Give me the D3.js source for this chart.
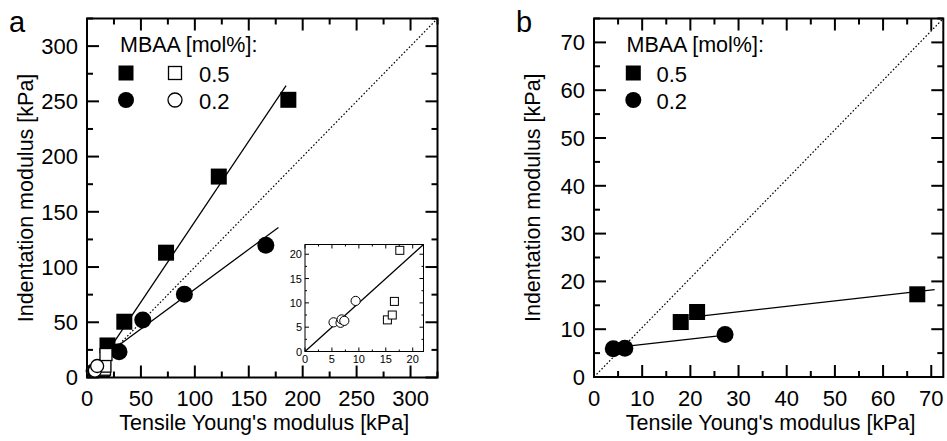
<!DOCTYPE html>
<html><head><meta charset="utf-8">
<script src="https://cdn.jsdelivr.net/npm/d3@7"></script>
<style>body{margin:0;background:#fff}svg{display:block;font-family:"Liberation Sans",Arial,sans-serif}</style>
</head><body><svg id="c" width="947" height="441"></svg>
<script>
// ---------- data ----------
const aXTicks = [0,50,100,150,200,250,300];
const aYTicks = [0,50,100,150,200,250,300];
const bXTicks = [0,10,20,30,40,50,60,70];
const bYTicks = [0,10,20,30,40,50,60,70];
const insetTicks = [0,5,10,15,20];
const legendTitle = "MBAA [mol%]:";
const legendLabels = ["0.5","0.2"];
const xTitle = "Tensile Young's modulus [kPa]";
const yTitle = "Indentation modulus [kPa]";

// panel a, filled (tensile vs indentation)
const aSquares = [[19,29],[34.6,50.5],[73.3,113],[122.2,181.9],[186.7,251.4]];
const aCircles = [[29.7,23.4],[51.7,52.1],[90.3,75.4],[165.8,119.7]];
// panel a, open symbols (also shown in inset)
const openSquares = [[15.3,6.5],[16.2,7.5],[16.6,10.3],[17.6,20.8]];
const openCircles = [[5.3,6.0],[6.6,5.9],[6.8,6.6],[7.3,6.3],[9.4,10.4]];
// fitted / reference lines
const aFitSquare = [[10,10.1],[184.6,264.3]];
const aFitCircle = [[5,11.6],[177.5,135.8]];
const aDiagonal = [[0,0],[325,325]];
const insetLine = [[0,0],[22,22]];
// panel b
const bSquares = [[18.0,11.5],[21.4,13.6],[67.1,17.3]];
const bCircles = [[4.0,5.9],[6.4,6.0],[27.2,8.9]];
const bFitSquare = [[21.6,12.7],[70.7,18.3]];
const bFitCircle = [[4.7,6.2],[26.8,8.7]];
const bDiagonal = [[0,0],[72.5,75]];

// ---------- drawing ----------
const svg = d3.select("#c");
svg.append("rect").attr("width",947).attr("height",441).attr("fill","#fff");

function minorTicks(major){const m=[];for(let i=0;i<major.length;i++){m.push(major[i]);if(i<major.length-1)m.push((major[i]+major[i+1])/2);}return m;}

function panel(o){
  const g = svg.append("g");
  const x = d3.scaleLinear().domain(o.xd).range([o.l,o.r]);
  const y = d3.scaleLinear().domain(o.yd).range([o.b,o.t]);
  const step=o.xt[1]-o.xt[0];
  const xAll=[...o.xt]; xAll.push(o.xt[o.xt.length-1]+step/2);
  const xs=[]; o.xt.forEach(v=>{xs.push([v,1]); xs.push([v+step/2,0]);});
  const ystep=o.yt[1]-o.yt[0];
  const ys=[]; o.yt.forEach(v=>{ys.push([v,1]); ys.push([v+ystep/2,0]);});
  const fx=xs.filter(d=>d[0]<=o.xd[1]+1e-9), fy=ys.filter(d=>d[0]<=o.yd[1]+1e-9);
  const tk=g.append("g").attr("stroke","#000").attr("stroke-width",2);
  fx.forEach(([v,maj])=>{const L=maj?12:6;const px=x(v);
    tk.append("line").attr("x1",px).attr("x2",px).attr("y1",o.b).attr("y2",o.b-L);
    tk.append("line").attr("x1",px).attr("x2",px).attr("y1",o.t).attr("y2",o.t+L);});
  fy.forEach(([v,maj])=>{const L=maj?12:6;const py=y(v);
    tk.append("line").attr("y1",py).attr("y2",py).attr("x1",o.l).attr("x2",o.l+L);
    tk.append("line").attr("y1",py).attr("y2",py).attr("x1",o.r).attr("x2",o.r-L);});
  g.append("rect").attr("x",o.l).attr("y",o.t).attr("width",o.r-o.l).attr("height",o.b-o.t)
    .attr("fill","none").attr("stroke","#000").attr("stroke-width",2);
  g.selectAll(".xl").data(o.xt).join("text").attr("x",d=>x(d)).attr("y",405.5)
    .attr("text-anchor","middle").attr("font-size",22).text(d=>d);
  g.selectAll(".yl").data(o.yt).join("text").attr("x",o.l-9).attr("y",d=>y(d)+7.8)
    .attr("text-anchor","end").attr("font-size",22).text(d=>d);
  g.append("text").attr("x",(o.l+o.r)/2+2).attr("y",430).attr("text-anchor","middle")
    .attr("font-size",21.5).text(xTitle);
  g.append("text").attr("transform",`translate(${o.l-54},${(o.t+o.b)/2}) rotate(-90)`)
    .attr("text-anchor","middle").attr("font-size",21.5).text(yTitle);
  g.append("text").attr("x",o.lx).attr("y",32).attr("font-size",29).text(o.letter);
  return {g,x,y};
}

const line = (x,y)=>d3.line().x(d=>x(d[0])).y(d=>y(d[1]));

function sq(g,x,y,data,s,fill,sw){
  g.selectAll(null).data(data).join("rect").attr("x",d=>x(d[0])-s/2).attr("y",d=>y(d[1])-s/2)
   .attr("width",s).attr("height",s).attr("fill",fill).attr("stroke","#000").attr("stroke-width",sw||0);
}
function ci(g,x,y,data,r,fill,sw){
  g.selectAll(null).data(data).join("circle").attr("cx",d=>x(d[0])).attr("cy",d=>y(d[1]))
   .attr("r",r).attr("fill",fill).attr("stroke","#000").attr("stroke-width",sw||0);
}

// Panel a
const A = panel({l:87,r:437.5,t:18.5,b:377.5,xd:[0,325],yd:[0,325],xt:aXTicks,yt:aYTicks,letter:"a",lx:9});
{
  const {g,x,y}=A;
  g.append("path").datum(aDiagonal).attr("d",line(x,y)).attr("stroke","#000").attr("stroke-width",1.2).attr("stroke-dasharray","1.6,2").attr("fill","none");
  g.append("path").datum(aFitSquare).attr("d",line(x,y)).attr("stroke","#000").attr("stroke-width",1.3).attr("fill","none");
  g.append("path").datum(aFitCircle).attr("d",line(x,y)).attr("stroke","#000").attr("stroke-width",1.3).attr("fill","none");
  sq(g,x,y,aSquares,16,"#000");
  ci(g,x,y,aCircles,8.5,"#000");
  sq(g,x,y,openSquares,12,"#fff",1.3);
  ci(g,x,y,openCircles,6.5,"#fff",1.3);
  // legend
  g.append("text").attr("x",120).attr("y",52).attr("font-size",21.5).text(legendTitle);
  g.append("rect").attr("x",126-7.5).attr("y",73-7.5).attr("width",15).attr("height",15).attr("fill","#000");
  g.append("rect").attr("x",175-6.5).attr("y",73-6.5).attr("width",13).attr("height",13).attr("fill","#fff").attr("stroke","#000").attr("stroke-width",1.3);
  g.append("circle").attr("cx",126).attr("cy",100).attr("r",8).attr("fill","#000");
  g.append("circle").attr("cx",175).attr("cy",100).attr("r",7).attr("fill","#fff").attr("stroke","#000").attr("stroke-width",1.3);
  g.append("text").attr("x",199).attr("y",81.5).attr("font-size",22).text(legendLabels[0]);
  g.append("text").attr("x",199).attr("y",108.5).attr("font-size",22).text(legendLabels[1]);
}

// Inset
{
  const l=305,r=423.5,t=244.5,b=351.5;
  const x=d3.scaleLinear().domain([0,22]).range([l,r]);
  const y=d3.scaleLinear().domain([0,22]).range([b,t]);
  const g=svg.append("g");
  g.append("rect").attr("x",l).attr("y",t).attr("width",r-l).attr("height",b-t).attr("fill","#fff");
  const tk=g.append("g").attr("stroke","#000").attr("stroke-width",1);
  const all=[];insetTicks.forEach(v=>{all.push([v,1]);all.push([v+2.5,0]);});
  all.filter(d=>d[0]<=22).forEach(([v,maj])=>{const L=maj?4:2;
    tk.append("line").attr("x1",x(v)).attr("x2",x(v)).attr("y1",b).attr("y2",b-L);
    tk.append("line").attr("x1",x(v)).attr("x2",x(v)).attr("y1",t).attr("y2",t+L);
    tk.append("line").attr("y1",y(v)).attr("y2",y(v)).attr("x1",l).attr("x2",l+L);
    tk.append("line").attr("y1",y(v)).attr("y2",y(v)).attr("x1",r).attr("x2",r-L);});
  g.append("rect").attr("x",l).attr("y",t).attr("width",r-l).attr("height",b-t).attr("fill","none").attr("stroke","#000").attr("stroke-width",1);
  g.selectAll(null).data(insetTicks).join("text").attr("x",d=>x(d)).attr("y",363).attr("text-anchor","middle").attr("font-size",11).text(d=>d);
  g.selectAll(null).data(insetTicks).join("text").attr("x",302).attr("y",d=>y(d)+4).attr("text-anchor","end").attr("font-size",11).text(d=>d);
  g.append("path").datum(insetLine).attr("d",line(x,y)).attr("stroke","#000").attr("stroke-width",1.3).attr("fill","none");
  sq(g,x,y,openSquares,8,"#fff",1);
  ci(g,x,y,openCircles,4.6,"#fff",1);
}

// Panel b
const B = panel({l:594,r:943.3,t:18.5,b:377,xd:[0,72.5],yd:[0,75],xt:bXTicks,yt:bYTicks,letter:"b",lx:516});
{
  const {g,x,y}=B;
  g.append("path").datum(bDiagonal).attr("d",line(x,y)).attr("stroke","#000").attr("stroke-width",1.2).attr("stroke-dasharray","1.6,2").attr("fill","none");
  g.append("path").datum(bFitSquare).attr("d",line(x,y)).attr("stroke","#000").attr("stroke-width",1.3).attr("fill","none");
  g.append("path").datum(bFitCircle).attr("d",line(x,y)).attr("stroke","#000").attr("stroke-width",1.3).attr("fill","none");
  sq(g,x,y,bSquares,16,"#000");
  ci(g,x,y,bCircles,8.5,"#000");
  g.append("text").attr("x",626.5).attr("y",52).attr("font-size",21.5).text(legendTitle);
  g.append("rect").attr("x",633.3-7.5).attr("y",73-7.5).attr("width",15).attr("height",15).attr("fill","#000");
  g.append("circle").attr("cx",633.3).attr("cy",100).attr("r",8).attr("fill","#000");
  g.append("text").attr("x",656.5).attr("y",81.5).attr("font-size",22).text(legendLabels[0]);
  g.append("text").attr("x",656.5).attr("y",108.5).attr("font-size",22).text(legendLabels[1]);
}
</script></body></html>
